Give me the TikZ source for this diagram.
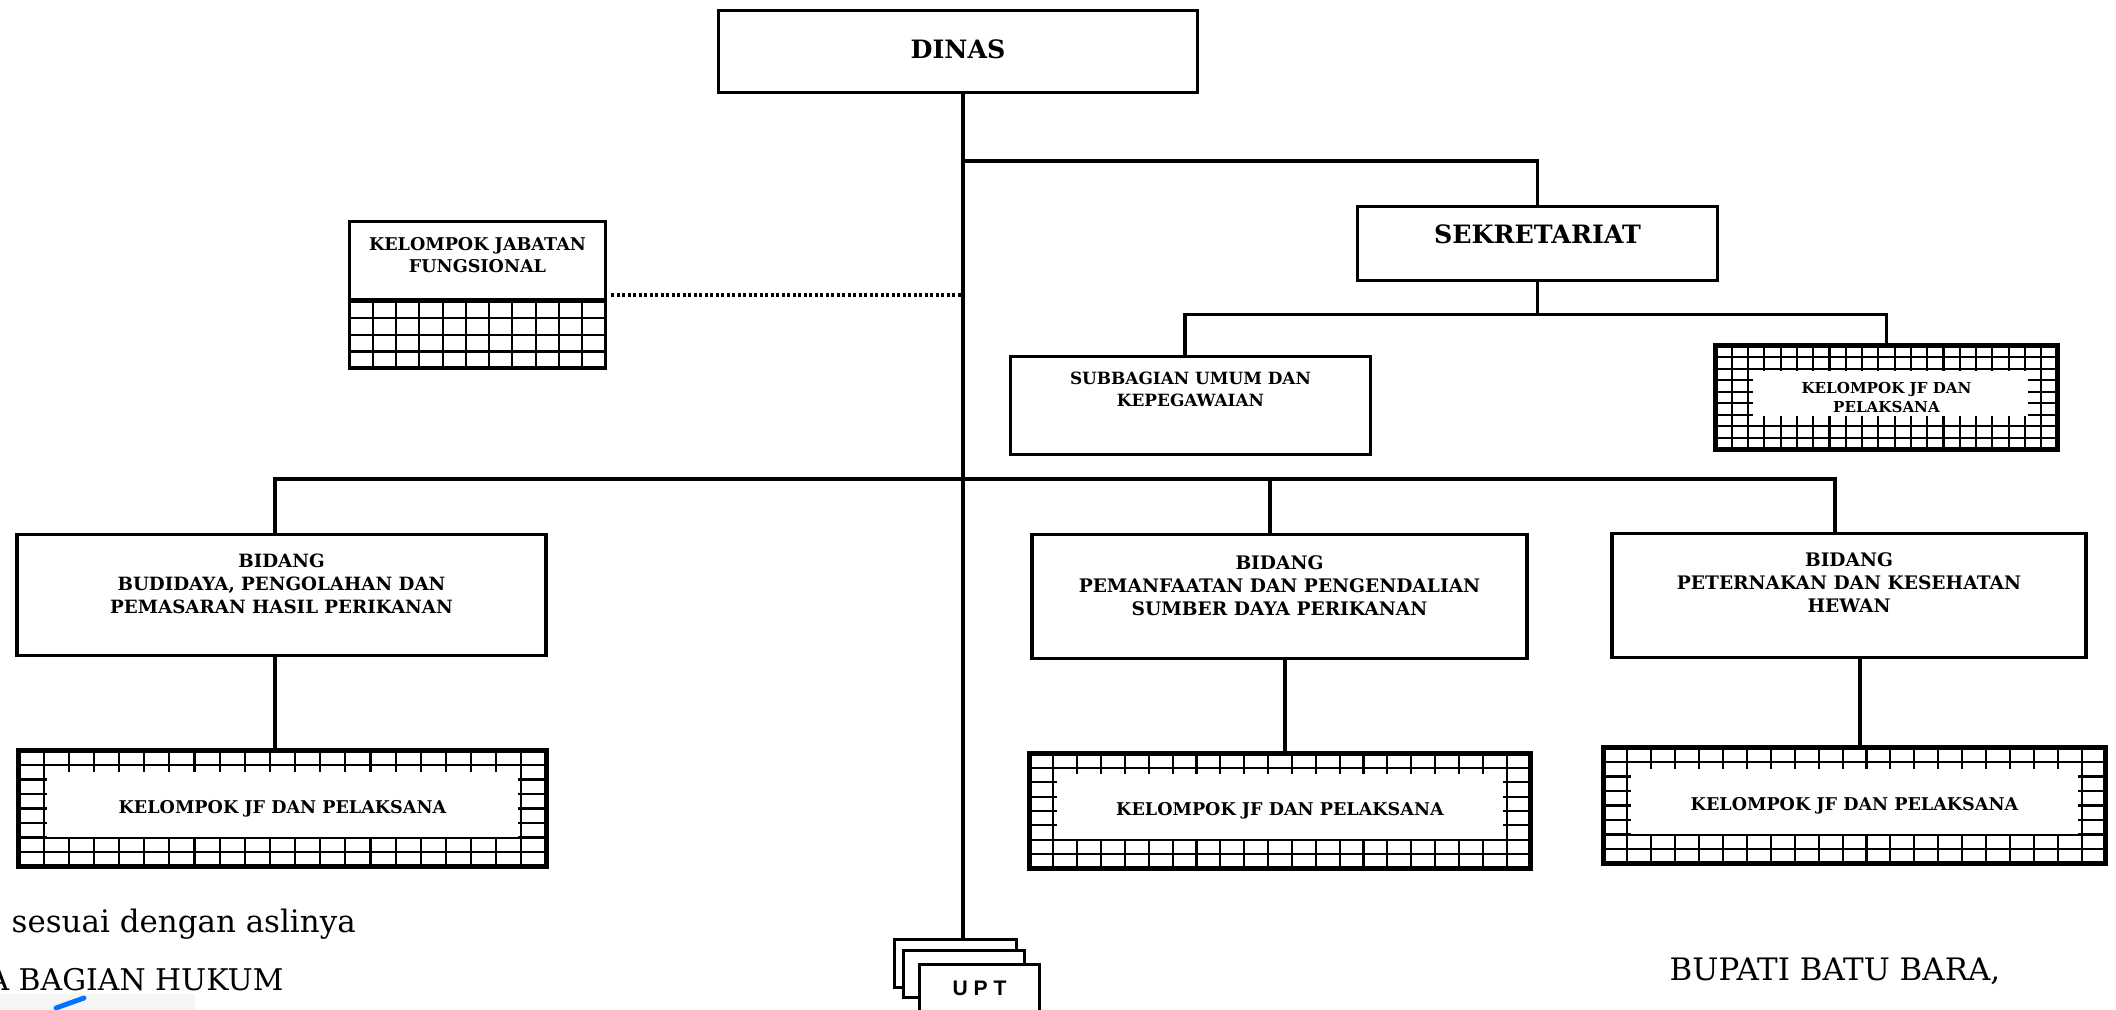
\documentclass[tikz,border=0pt]{standalone}
\usepackage{fontspec}
\setmainfont{DejaVu Serif}
\newfontfamily\uptfont{Liberation Sans}
\usetikzlibrary{calc,positioning}

\newcommand{\cellgrid}[2]{%
  \foreach \i in {1,...,#1}
    \draw[line width=.6pt] ($(path picture bounding box.south west)!\i/#1!(path picture bounding box.south east)$) -- ($(path picture bounding box.north west)!\i/#1!(path picture bounding box.north east)$);
  \foreach \j in {1,...,#2}
    \draw[line width=.6pt] ($(path picture bounding box.north west)!\j/#2!(path picture bounding box.south west)$) -- ($(path picture bounding box.north east)!\j/#2!(path picture bounding box.south east)$);
}
\newcommand{\cellhole}[6]{%
  \path ($(path picture bounding box.south west)!#3/#1!(path picture bounding box.south east)$) coordinate (hl)
        ($(path picture bounding box.south east)!#4/#1!(path picture bounding box.south west)$) coordinate (hr)
        ($(path picture bounding box.north west)!#5/#2!(path picture bounding box.south west)$) coordinate (ht)
        ($(path picture bounding box.south west)!#6/#2!(path picture bounding box.north west)$) coordinate (hb);
  \fill[white] (hl |- ht) rectangle (hr |- hb);
}

\begin{document}
\begin{tikzpicture}[x=0.1mm, y=-0.1mm,
    box/.style={draw, line width=1pt, inner sep=0pt},
    head/.style 2 args={inner sep=0pt, align=center, font=\bfseries\fontsize{#1}{#2}\selectfont},
    conn/.style={line width=.9pt},
    dotline/.style={line width=1pt, dash pattern=on .3mm off .25mm},
    cells/.style 2 args={path picture={\cellgrid{#1}{#2}}},
    jfbox/.style n args={6}{box, line width=1.15pt, align=center, font=\bfseries\fontsize{5}{6}\selectfont,
        path picture={\cellgrid{#1}{#2}\cellhole{#1}{#2}{#3}{#4}{#5}{#6}}},
    uptbox/.style={draw, line width=1pt, fill=white, inner sep=0pt},
    sign/.style={inner sep=0pt, font=\fontsize{8.8}{10}\selectfont}]
    \useasboundingbox (0,0) rectangle (2116,1010);

    % pimpinan dan sekretariat
    \node[box, minimum width=47.9mm, minimum height=8.2mm] (dinas) at (958,51.5) {};
    \node[head={7.2}{9}, below=3mm of dinas.north] (dinas-t) {DINAS};

    \node[box, minimum width=36mm, minimum height=7.4mm] (sek) at (1537.5,243.5) {};
    \node[head={7.2}{9}, below=1.9mm of sek.north] (sek-t) {SEKRETARIAT};

    \node[box, minimum width=36mm, minimum height=9.8mm] (sub) at (1190.5,405.5) {};
    \node[head={4.8}{6.2}, below=1.7mm of sub.north] (sub-t) {SUBBAGIAN UMUM DAN\\KEPEGAWAIAN};

    \node[jfbox={21}{9}{2.3}{1.8}{2.2}{2.9}, minimum width=34.2mm, minimum height=10.4mm,
        font=\bfseries\fontsize{4.3}{5.2}\selectfont] (sekjf) at (1886.5,397.5) {KELOMPOK JF DAN\\PELAKSANA};

    \node[box, minimum width=25.6mm, minimum height=7.8mm] (jab) at (477.5,260.5) {};
    \node[head={5}{6.2}, below=1.7mm of jab.north] (jab-t) {KELOMPOK JABATAN\\FUNGSIONAL};
    \node[box, cells={11}{4}, minimum width=25.6mm, minimum height=6.7mm, below=-.5pt of jab] (jabgrid) {};

    % bidang
    \node[box, minimum width=52.9mm, minimum height=12.1mm] (bid1) at (281.5,595) {};
    \node[head={5.2}{6.6}, below=2mm of bid1.north] (bid1-t) {BIDANG\\BUDIDAYA, PENGOLAHAN DAN\\PEMASARAN HASIL PERIKANAN};

    \node[box, minimum width=49.5mm, minimum height=12.4mm] (bid2) at (1279.5,596.5) {};
    \node[head={5.3}{6.6}, below=2.2mm of bid2.north] (bid2-t) {BIDANG\\PEMANFAATAN DAN PENGENDALIAN\\SUMBER DAYA PERIKANAN};

    \node[box, minimum width=47.4mm, minimum height=12.4mm] (bid3) at (1849,595.5) {};
    \node[head={5.3}{6.6}, below=2mm of bid3.north] (bid3-t) {BIDANG\\PETERNAKAN DAN KESEHATAN\\HEWAN};

    \node[jfbox={21}{8}{1.15}{1.15}{1.45}{2.05}, minimum width=52.8mm, minimum height=11.6mm] (jf1) at (282.5,808.5) {KELOMPOK JF DAN PELAKSANA};
    \node[jfbox={21}{8}{1.15}{1.15}{1.45}{2.05}, minimum width=50.1mm, minimum height=11.5mm] (jf2) at (1280,811) {KELOMPOK JF DAN PELAKSANA};
    \node[jfbox={21}{8}{1.15}{1.15}{1.45}{2.05}, minimum width=50.2mm, minimum height=11.6mm] (jf3) at (1854.5,805.5) {KELOMPOK JF DAN PELAKSANA};

    % upt
    \node[uptbox, minimum width=12.2mm, minimum height=4.8mm] (upt1) at (955.5,963.5) {};
    \node[uptbox, minimum width=12.1mm, minimum height=4.7mm] (upt2) at (964,974) {};
    \node[uptbox, minimum width=12mm, minimum height=4.8mm, font=\uptfont\bfseries\fontsize{6}{7}\selectfont] (upt3) at (979.5,988.5) {U P T};

    % garis
    \coordinate (trunk) at ([xshift=.5mm]dinas.south);
    \draw[conn] (trunk) -- (trunk |- upt1.north);
    \coordinate (sekjoint) at (963,161);
    \draw[conn] (sekjoint) -| (sek.north);
    \draw[conn] (sek.south) -- ++(0,32) coordinate (subjoint);
    \draw[conn] ([xshift=-.55mm]sub.north) |- (subjoint) -| (sekjf.north);
    \coordinate (busjoint) at (963,479);
    \draw[conn] ([xshift=-.65mm]bid1.north) |- (busjoint) -| ([xshift=-1.4mm]bid3.north);
    \draw[conn] (busjoint) -| ([xshift=-.95mm]bid2.north);
    \draw[conn] ([xshift=-.65mm]bid1.south) -- ([xshift=-.65mm]bid1.south |- jf1.north);
    \draw[conn] ([xshift=.55mm]bid2.south) -- ([xshift=.55mm]bid2.south |- jf2.north);
    \draw[conn] ([xshift=.55mm]bid3.south -| jf3.north) -- ([xshift=.55mm]jf3.north);
    \path ([xshift=.4mm,yshift=.6mm]jab.south east) coordinate (dotl);
    \draw[dotline] (dotl) -- (dotl -| trunk);

    % pengesahan
    \fill[black!4] (0,994) rectangle (195,1010);
    \draw[blue!55!cyan, line width=1.4pt, line cap=round] (56,1008) -- (84,998);
    \node[sign, anchor=west] (salinan) at (11,924) {sesuai dengan aslinya};
    \node[sign, anchor=west, font=\fontsize{8.5}{10}\selectfont] (kabag) at (-13,980) {A BAGIAN HUKUM};
    \node[sign, anchor=west] (bupati) at (1669,971) {BUPATI BATU BARA,};
\end{tikzpicture}
\end{document}
